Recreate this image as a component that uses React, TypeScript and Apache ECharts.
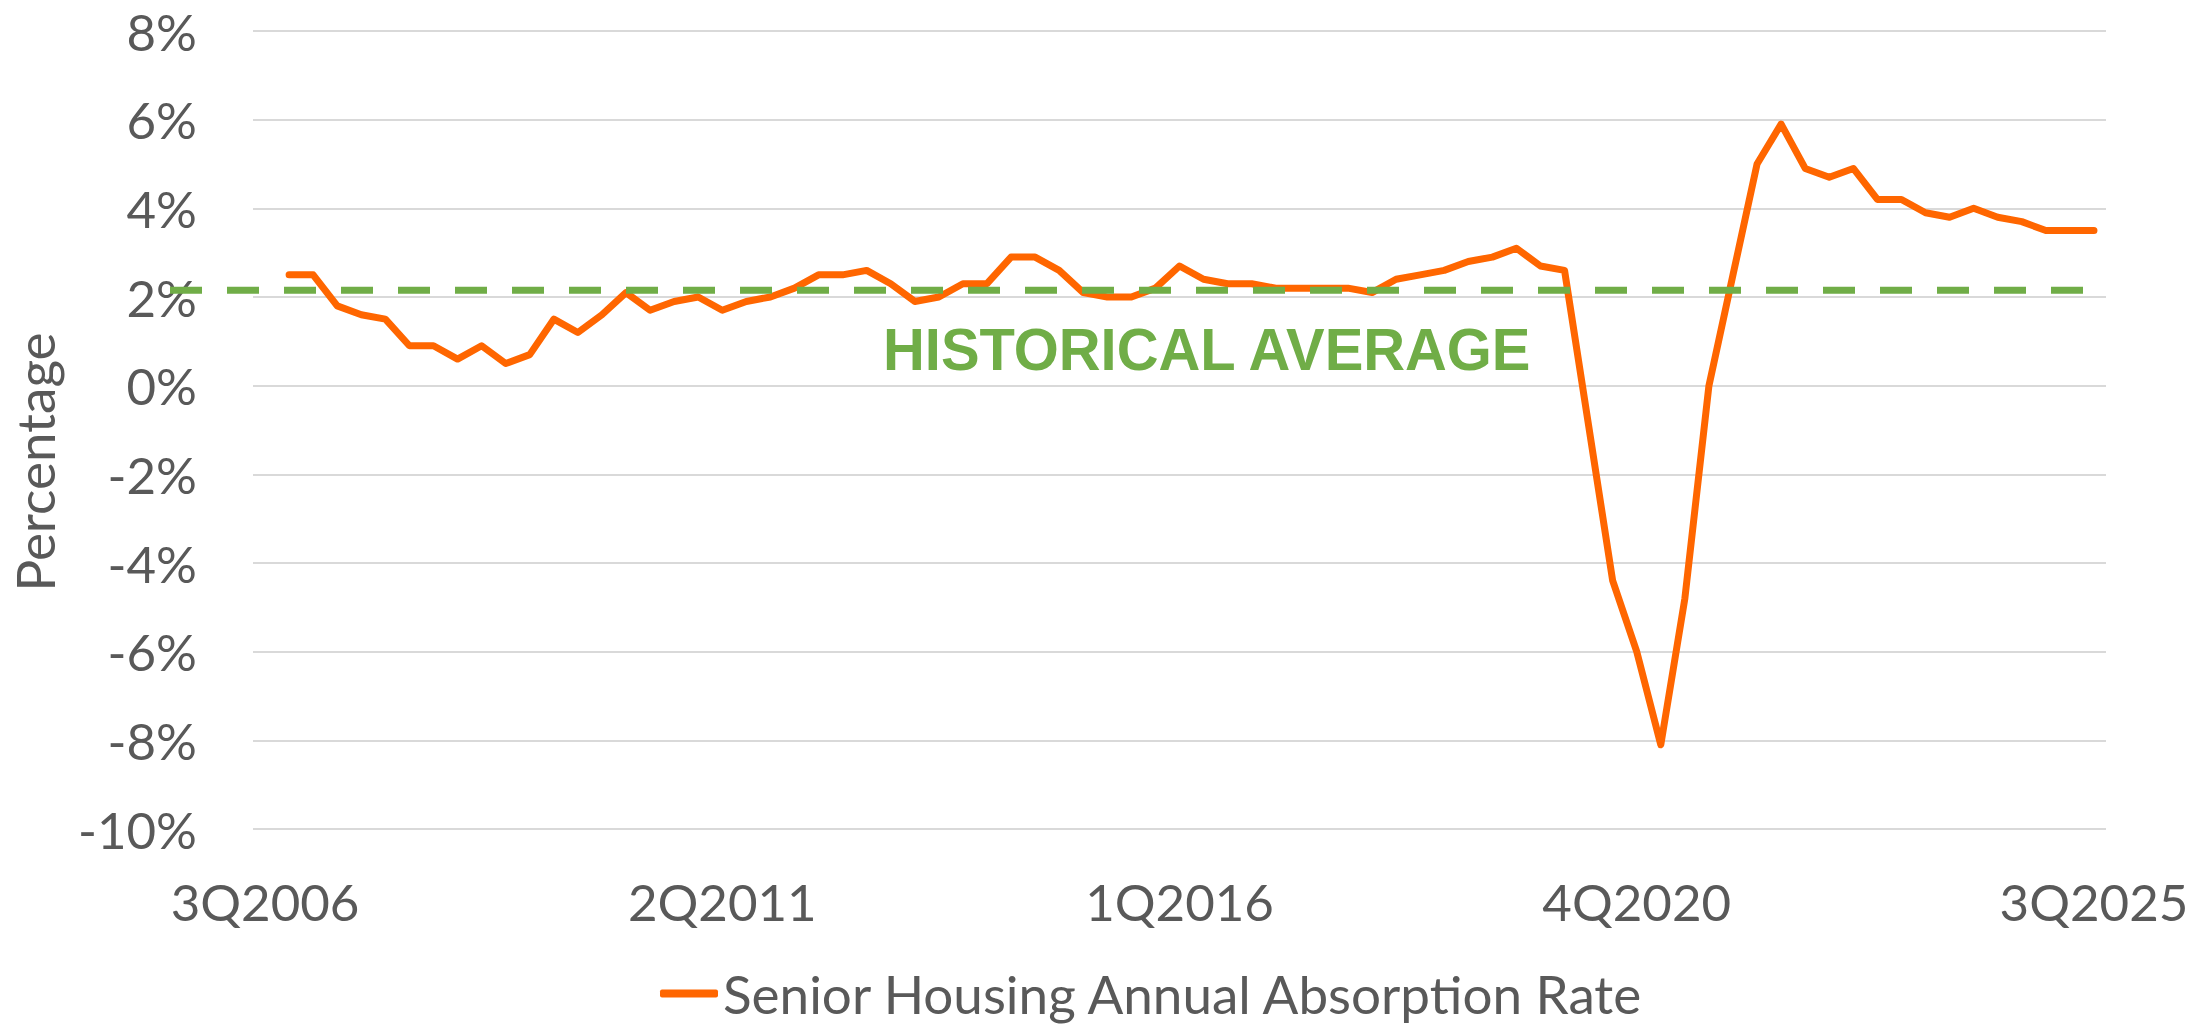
import React, { useEffect, useRef } from "react";
import * as echarts from "echarts";

// Quarter labels 3Q2006 .. 3Q2025
const START_YEAR = 2006;
const START_Q = 3;
const N_QUARTERS = 77;
const categories: string[] = [];
for (let i = 0; i < N_QUARTERS; i++) {
  const q0 = START_Q - 1 + i;
  categories.push(`${(q0 % 4) + 1}Q${START_YEAR + Math.floor(q0 / 4)}`);
}

const seriesName = "Senior Housing Annual Absorption Rate";

// Annual absorption rate (%), first category (3Q2006) has no value
const absorption: (number | null)[] = [
  null,
  2.5, 2.5, 1.8, 1.6, 1.5, 0.9, 0.9, 0.6, 0.9, 0.5,
  0.7, 1.5, 1.2, 1.6, 2.1, 1.7, 1.9, 2.0, 1.7, 1.9,
  2.0, 2.2, 2.5, 2.5, 2.6, 2.3, 1.9, 2.0, 2.3, 2.3,
  2.9, 2.9, 2.6, 2.1, 2.0, 2.0, 2.2, 2.7, 2.4, 2.3,
  2.3, 2.2, 2.2, 2.2, 2.2, 2.1, 2.4, 2.5, 2.6, 2.8,
  2.9, 3.1, 2.7, 2.6, -0.9, -4.4, -6.0, -8.1, -4.8, 0.0,
  2.5, 5.0, 5.9, 4.9, 4.7, 4.9, 4.2, 4.2, 3.9, 3.8,
  4.0, 3.8, 3.7, 3.5, 3.5, 3.5,
];

const historicalAverage = 2.15;
const averageLabel = "HISTORICAL AVERAGE";
const yAxisTitle = "Percentage";

const Y_MIN = -10;
const Y_MAX = 8;
const Y_INTERVAL = 2;

const TEXT_COLOR = "#595959";
const ORANGE = "#FF6600";
const GREEN = "#70AD47";
const FONT = "Lato, 'Noto Sans', sans-serif";

export default function App() {
  const ref = useRef<HTMLDivElement | null>(null);

  useEffect(() => {
    if (!ref.current) return;
    const chart = echarts.init(ref.current, null, { renderer: "svg" });
    chart.setOption({
      animation: false,
      backgroundColor: "#ffffff",
      textStyle: { fontFamily: FONT },
      grid: { left: 252, right: 104, top: 31, bottom: 200 },
      legend: {
        data: [seriesName],
        left: 655,
        top: 962,
        icon: "roundRect",
        itemWidth: 58,
        itemHeight: 8,
        textStyle: {
          color: TEXT_COLOR,
          fontSize: 53,
          lineHeight: 50,
          fontFamily: FONT,
        },
      },
      xAxis: {
        type: "category",
        data: categories,
        boundaryGap: true,
        axisLine: { show: false },
        axisTick: { show: false },
        axisLabel: {
          interval: 18,
          color: TEXT_COLOR,
          fontSize: 51,
          fontFamily: FONT,
          margin: 47,
        },
        splitLine: { show: false },
      },
      yAxis: {
        type: "value",
        min: Y_MIN,
        max: Y_MAX,
        interval: Y_INTERVAL,
        name: yAxisTitle,
        nameLocation: "middle",
        nameGap: 192,
        nameTextStyle: {
          color: TEXT_COLOR,
          fontSize: 53,
          fontFamily: FONT,
          padding: [0, 64, 0, 0],
        },
        axisLine: { show: false },
        axisTick: { show: false },
        axisLabel: {
          formatter: "{value}%",
          color: TEXT_COLOR,
          fontSize: 51,
          lineHeight: 40,
          fontFamily: FONT,
          margin: 56,
        },
        splitLine: { lineStyle: { color: "#D9D9D9", width: 2 } },
      },
      series: [
        {
          name: seriesName,
          type: "line",
          data: absorption,
          showSymbol: false,
          symbol: "none",
          lineStyle: { color: ORANGE, width: 7, cap: "round", join: "round" },
          itemStyle: { color: ORANGE },
          z: 3,
        },
      ],
    });

    const avgY = chart.convertToPixel({ yAxisIndex: 0 }, historicalAverage) as number;
    chart.setOption({
      graphic: [
        {
          type: "line",
          z: 10,
          shape: { x1: 170, y1: avgY, x2: 2103, y2: avgY },
          style: { stroke: GREEN, lineWidth: 7, lineDash: [32, 25] },
          silent: true,
        },
        {
          type: "text",
          z: 10,
          x: 883,
          y: avgY + 59,
          scaleX: 0.965,
          style: {
            text: averageLabel,
            fill: GREEN,
            fontFamily: "'Liberation Sans', Arial, sans-serif",
            fontWeight: "bold",
            fontSize: 60,
            verticalAlign: "middle",
            align: "left",
          },
          silent: true,
        },
      ],
    });

    return () => chart.dispose();
  }, []);

  return (
    <div
      ref={ref}
      style={{ position: "fixed", left: 0, top: 0, width: 2210, height: 1029 }}
    />
  );
}
